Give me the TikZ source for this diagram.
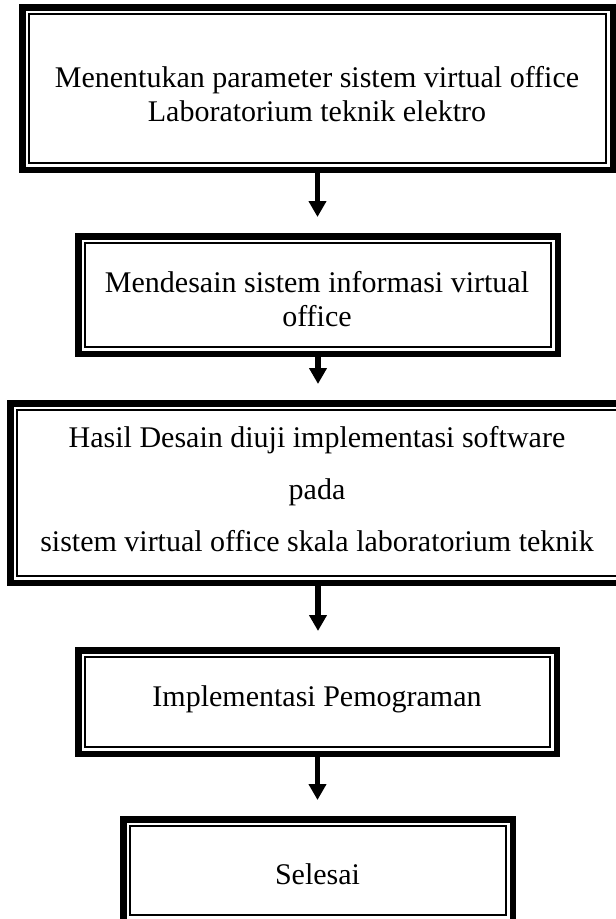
\documentclass[tikz,border=0pt]{standalone}
\usepackage{fontspec}
\setmainfont{Liberation Serif}
\usetikzlibrary{arrows.meta}
\begin{document}
\begin{tikzpicture}[x=1pt,y=-1pt,
  boxnode/.style={rectangle, draw=none, inner sep=0pt, outer sep=0pt},
  outerline/.style={line width=6.5pt, line join=miter},
  innerline/.style={line width=1.8pt, line join=miter},
  txt/.style={inner sep=0pt, outer sep=0pt, align=center, font=\fontsize{30}{34.5}\selectfont},
  arr/.style={line width=5.5pt, -{Triangle[width=17pt,length=16pt]}, shorten >=16pt}]
\useasboundingbox (0,0) rectangle (616,919);
% boxes
\node[boxnode, minimum width=597pt, minimum height=169pt] (b1) at (317.5,88.5) {};
\node[boxnode, minimum width=486pt, minimum height=124pt] (b2) at (318,295) {};
\node[boxnode, minimum width=622pt, minimum height=186pt] (b3) at (318,493) {};
\node[boxnode, minimum width=485pt, minimum height=110pt] (b4) at (317.5,702) {};
\node[boxnode, minimum width=396pt, minimum height=109pt] (b5) at (318,870.5) {};
\foreach \n in {b1,b2,b3,b4,b5}{
  \draw[outerline] ([shift={(3.25pt,-3.25pt)}]\n.north west) rectangle ([shift={(-3.25pt,3.25pt)}]\n.south east);
  \draw[innerline] ([shift={(10pt,-10pt)}]\n.north west) rectangle ([shift={(-10pt,10pt)}]\n.south east);
}
% texts
\node[txt] (t1) at (317,94.2) {Menentukan parameter sistem virtual office\\Laboratorium teknik elektro};
\node[txt] (t2) at (317,299.3) {Mendesain sistem informasi virtual\\office};
\node[txt] (t3) at (317,489.2) {Hasil Desain diuji implementasi software\\[17.7pt]pada\\[17.7pt]sistem virtual office skala laboratorium teknik};
\node[txt, anchor=base] (t4) at (317,706.7) {Implementasi Pemograman};
\node[txt, anchor=base] (t5) at (317.5,884.5) {Selesai};
% arrows
\draw[arr] (b1.south) -- (b1.south |- b2.north);
\draw[arr] (b2.south) -- (b2.south |- b3.north);
\draw[arr] (b3.south) -- (b3.south |- b4.north);
\draw[arr] (b4.south) -- (b4.south |- b5.north);
\end{tikzpicture}
\end{document}
